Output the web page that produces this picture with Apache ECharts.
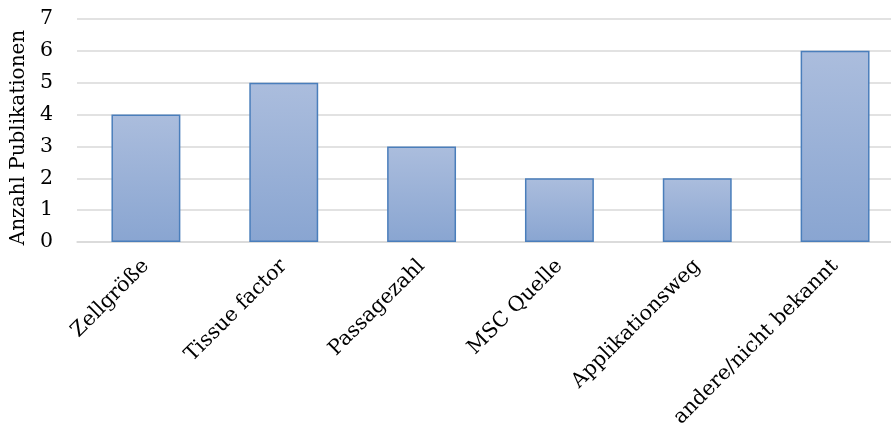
<!DOCTYPE html>
<html>
<head>
<meta charset="utf-8">
<script src="https://cdn.jsdelivr.net/npm/echarts@6/dist/echarts.min.js"></script>
<style>
  html, body { margin: 0; padding: 0; background: #fff; overflow: hidden; width: 891px; height: 430px; }
  /* the plot runs a little past the right edge of the visible page */
  #chart { width: 904px; height: 430px; }
</style>
</head>
<body>
<div id="chart"></div>
<script>
// Publication counts per factor
const categories = ['Zellgröße', 'Tissue factor', 'Passagezahl', 'MSC Quelle', 'Applikationsweg', 'andere/nicht bekannt'];
const counts = [4, 5, 3, 2, 2, 6];
const yTicks = [0, 1, 2, 3, 4, 5, 6, 7];

const FONT = '"DejaVu Serif", serif';

const chart = echarts.init(document.getElementById('chart'), null, { renderer: 'canvas' });
chart.setOption({
  animation: false,
  backgroundColor: '#ffffff',
  grid: { left: 77, right: 0, top: 19, height: 223, containLabel: false, outerBoundsMode: 'none' },
  xAxis: {
    type: 'category',
    data: categories,
    axisLine: { show: true, lineStyle: { color: '#d9d9d9', width: 1.5 } },
    axisTick: { show: false },
    axisLabel: {
      rotate: 45,
      interval: 0,
      margin: 21,
      color: '#000',
      fontFamily: FONT,
      fontSize: 20.5
    }
  },
  yAxis: {
    type: 'value',
    min: yTicks[0],
    max: yTicks[yTicks.length - 1],
    interval: 1,
    name: 'Anzahl Publikationen',
    nameLocation: 'middle',
    nameGap: 47,
    nameTextStyle: { color: '#000', fontFamily: FONT, fontSize: 20, padding: [0, 14, 0, 0] },
    axisLine: { show: false },
    axisTick: { show: false },
    axisLabel: { color: '#000', fontFamily: FONT, fontSize: 20.5, margin: 24 },
    splitLine: { lineStyle: { color: '#d9d9d9', width: 1.5 } }
  },
  series: [{
    type: 'bar',
    data: counts,
    barWidth: '50%',
    itemStyle: {
      color: new echarts.graphic.LinearGradient(0, 0, 0, 1, [
        { offset: 0, color: '#abbddd' },
        { offset: 1, color: '#89a5d1' }
      ]),
      borderColor: '#4a7ebb',
      borderWidth: 1.5
    }
  }]
});
</script>
</body>
</html>
